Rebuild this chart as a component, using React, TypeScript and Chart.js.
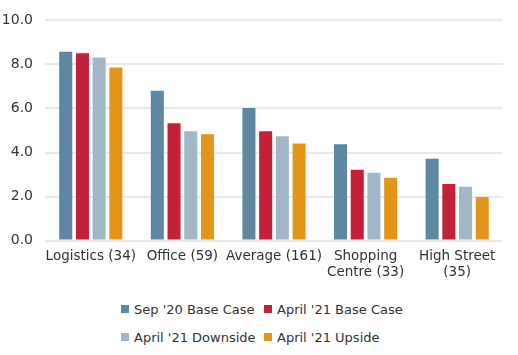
import React, { useEffect, useRef } from "react";
import { Chart, registerables } from "chart.js";

Chart.register(...registerables);

const categories: (string | string[])[] = [
  "Logistics (34)",
  "Office (59)",
  "Average (161)",
  ["Shopping", "Centre (33)"],
  ["High Street", "(35)"],
];
const seriesNames = ["Sep '20 Base Case", "April '21 Base Case", "April '21 Downside", "April '21 Upside"];
const sep20Base = [8.58, 6.8, 6.02, 4.37, 3.72];
const apr21Base = [8.51, 5.33, 4.97, 3.22, 2.57];
const apr21Down = [8.32, 4.97, 4.74, 3.08, 2.44];
const apr21Up = [7.86, 4.83, 4.41, 2.85, 1.98];
const colors = ["#5e87a1", "#c5203a", "#a1b7c6", "#e39519"];
const yTicks = [0, 2, 4, 6, 8, 10];

const FONT = "'DejaVu Sans', sans-serif";

export default function App() {
  const ref = useRef<HTMLCanvasElement | null>(null);
  useEffect(() => {
    if (!ref.current) return;
    const values = [sep20Base, apr21Base, apr21Down, apr21Up];
    const chart = new Chart(ref.current, {
      type: "bar",
      data: {
        labels: categories,
        datasets: seriesNames.map((n, i) => ({
          label: n,
          data: values[i],
          backgroundColor: colors[i],
          borderWidth: 0,
          categoryPercentage: 0.73,
          barPercentage: 0.78,
        })),
      },
      options: {
        animation: false,
        responsive: false,
        maintainAspectRatio: false,
        layout: { padding: { left: 3, right: 15, top: 15, bottom: 0 } },
        plugins: { legend: { display: false }, tooltip: { enabled: false } },
        scales: {
          x: {
            grid: { display: false, drawTicks: false },
            border: { display: false },
            ticks: { color: "#333333", font: { family: FONT, size: 13.5 }, padding: 8, maxRotation: 0, autoSkip: false },
          },
          y: {
            min: 0,
            max: 10,
            afterBuildTicks: (axis: any) => {
              axis.ticks = yTicks.map((v) => ({ value: v }));
            },
            afterFit: (axis: any) => {
              axis.width = 42;
            },
            grid: { color: "#e6eaee", lineWidth: 2, drawTicks: false },
            border: { display: false },
            ticks: {
              color: "#333333",
              font: { family: FONT, size: 14 },
              padding: 12,
              callback: (v: any) => Number(v).toFixed(1),
            },
          },
        },
      },
    });
    return () => chart.destroy();
  }, []);

  const legendItem = (i: number) => (
    <div key={i} style={{ display: "flex", alignItems: "center", height: 28 }}>
      <span style={{ width: 8, height: 8, background: colors[i], display: "inline-block", marginRight: 5 }} />
      <span style={{ fontFamily: FONT, fontSize: 13, color: "#333333", whiteSpace: "nowrap" }}>{seriesNames[i]}</span>
    </div>
  );

  return (
    <div style={{ position: "fixed", left: 0, top: 0, width: 518, height: 355, background: "#ffffff" }}>
      <canvas ref={ref} width={518} height={289} style={{ position: "absolute", left: 0, top: 0 }} />
      <div
        style={{
          position: "absolute",
          left: 121,
          top: 295,
          display: "grid",
          gridTemplateColumns: "143px 143px",
        }}
      >
        {[0, 1, 2, 3].map(legendItem)}
      </div>
    </div>
  );
}
